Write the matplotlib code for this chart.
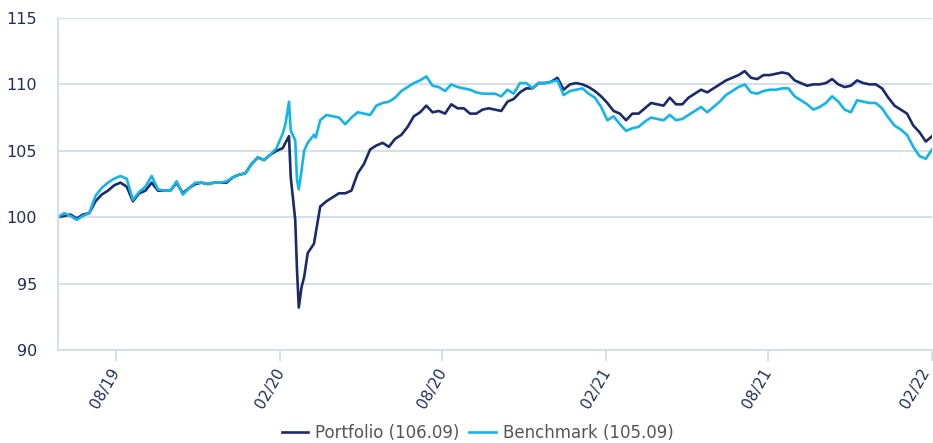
import matplotlib
matplotlib.use('Agg')
import matplotlib.pyplot as plt
import matplotlib.dates as mdates
import matplotlib.transforms as mtransforms
import numpy as np
import pandas as pd

# day offsets from the first observation (weekly, denser around the March 2020 crash)
days = list(range(0, 253, 7)) + [255, 259, 261, 266, 268, 270, 273, 276, 280, 287, 289] + list(range(294, 981, 7))

portfolio = [100.0, 100.1, 100.2, 99.9, 100.2, 100.3, 101.2, 101.7, 102.0, 102.4,
             102.6, 102.3, 101.2, 101.8, 102.0, 102.6, 102.0, 102.0, 102.0, 102.6,
             101.8, 102.2, 102.5, 102.6, 102.5, 102.6, 102.6, 102.6, 103.0, 103.2,
             103.3, 104.0, 104.5, 104.3, 104.7, 105.0, 105.2,
             105.6, 106.1, 103.0, 99.8, 96.0, 93.2, 94.7, 95.5, 97.3, 98.0, 98.8,
             100.8, 101.2, 101.5, 101.8, 101.8, 102.0, 103.3, 104.0, 105.1, 105.4,
             105.6, 105.3, 105.9, 106.2, 106.8, 107.6, 107.9, 108.4, 107.9, 108.0,
             107.8, 108.5, 108.2, 108.2, 107.8, 107.8, 108.1, 108.2, 108.1, 108.0,
             108.7, 108.9, 109.4, 109.7, 109.7, 110.1, 110.1, 110.2, 110.5, 109.6,
             110.0, 110.1, 110.0, 109.8, 109.5, 109.1, 108.6, 108.0, 107.8, 107.3,
             107.8, 107.8, 108.2, 108.6, 108.5, 108.4, 109.0, 108.5, 108.5, 109.0,
             109.3, 109.6, 109.4, 109.7, 110.0, 110.3, 110.5, 110.7, 111.0, 110.5,
             110.4, 110.7, 110.7, 110.8, 110.9, 110.8, 110.3, 110.1, 109.9, 110.0,
             110.0, 110.1, 110.4, 110.0, 109.8, 109.9, 110.3, 110.1, 110.0, 110.0,
             109.7, 109.0, 108.4, 108.1, 107.8, 106.9, 106.4, 105.7, 106.09]

benchmark = [100.0, 100.3, 100.1, 99.8, 100.1, 100.3, 101.6, 102.2, 102.6, 102.9,
             103.1, 102.9, 101.3, 101.9, 102.3, 103.1, 102.1, 102.0, 102.0, 102.7,
             101.7, 102.2, 102.6, 102.6, 102.5, 102.6, 102.6, 102.7, 103.0, 103.2,
             103.3, 104.0, 104.5, 104.3, 104.7, 105.2, 106.3,
             107.0, 108.7, 106.5, 105.8, 102.8, 102.1, 103.5, 105.0, 105.6, 106.2, 106.0,
             107.3, 107.7, 107.6, 107.5, 107.0, 107.5, 107.9, 107.8, 107.7, 108.4,
             108.6, 108.7, 109.0, 109.5, 109.8, 110.1, 110.3, 110.6, 109.9, 109.8,
             109.5, 110.0, 109.8, 109.7, 109.6, 109.4, 109.3, 109.3, 109.3, 109.1,
             109.6, 109.3, 110.1, 110.1, 109.7, 110.1, 110.1, 110.2, 110.3, 109.2,
             109.5, 109.6, 109.7, 109.3, 109.0, 108.3, 107.3, 107.6, 107.0, 106.5,
             106.7, 106.8, 107.2, 107.5, 107.4, 107.3, 107.7, 107.3, 107.4, 107.7,
             108.0, 108.3, 107.9, 108.3, 108.7, 109.2, 109.5, 109.8, 110.0, 109.4,
             109.3, 109.5, 109.6, 109.6, 109.7, 109.7, 109.1, 108.8, 108.5, 108.1,
             108.3, 108.6, 109.1, 108.7, 108.1, 107.9, 108.8, 108.7, 108.6, 108.6,
             108.2, 107.5, 106.9, 106.6, 106.2, 105.3, 104.6, 104.4, 105.09]

start = pd.Timestamp('2019-05-28')
dates = start + pd.to_timedelta(days, unit='D')

tick_dates = pd.to_datetime(['2019-08-01', '2020-02-01', '2020-08-01',
                             '2021-02-01', '2021-08-01', '2022-02-01'])

navy = '#1b2a6b'
cyan = '#12b5ea'
grid_col = '#d3dce8'
text_col = '#1f2d5a'

fig = plt.figure(figsize=(9.33, 4.43), dpi=100)
ax = fig.add_axes([58 / 933, 1 - 350 / 443, 874 / 933, 332 / 443])

ax.plot(dates, portfolio, color=navy, lw=1.9, label='Portfolio (106.09)')
ax.plot(dates, benchmark, color=cyan, lw=1.9, label='Benchmark (105.09)')

ax.set_xlim(dates[0], dates[-1])
ax.set_ylim(90, 115)
ax.set_yticks([90, 95, 100, 105, 110, 115])
ax.yaxis.grid(True, color=grid_col, lw=1.3)
ax.set_axisbelow(True)

for s in ['top', 'right']:
    ax.spines[s].set_visible(False)
for s in ['left', 'bottom']:
    ax.spines[s].set_color(grid_col)
    ax.spines[s].set_linewidth(1.3)

ax.tick_params(axis='y', length=0, pad=15, labelsize=11.5, labelcolor=text_col)
ax.tick_params(axis='x', length=8, width=1.3, color=grid_col, pad=3,
               labelsize=11, labelcolor=text_col)

ax.set_xticks(tick_dates)
ax.xaxis.set_major_formatter(mdates.DateFormatter('%m/%y'))
# rotated labels, nudged left so the last one stays inside the figure
xlabels = ax.get_xticklabels()
for i, lbl in enumerate(xlabels):
    dx = -12 if i == len(xlabels) - 1 else -6
    shift = mtransforms.ScaledTranslation(dx / 100, 0, fig.dpi_scale_trans)
    lbl.set_rotation(60)
    lbl.set_ha('right')
    lbl.set_rotation_mode('anchor')
    lbl.set_transform(lbl.get_transform() + shift)

leg = ax.legend(loc='center', bbox_to_anchor=(0.48, -0.25), ncol=2,
                frameon=False, fontsize=12, handlelength=1.6, handletextpad=0.4,
                columnspacing=0.6, labelcolor='#555555')

plt.savefig('out.png', dpi=100)
